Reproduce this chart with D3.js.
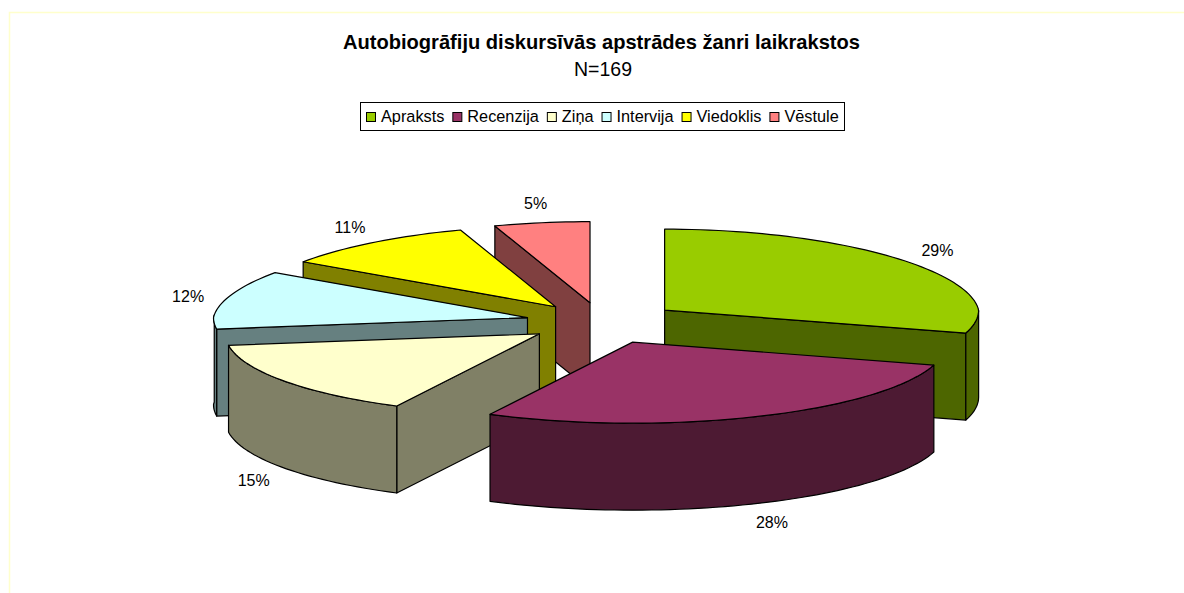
<!DOCTYPE html>
<html>

<head>
  <meta http-equiv="content-type" content="text/html; charset=utf-8">
  <title>Autobiogrāfiju diskursīvās apstrādes žanri laikrakstos</title>
  <style>
    body { margin: 0; background: #fff; }
    svg { display: block; }
    text { font-family: "Liberation Sans", Arial, sans-serif; fill: #000; }
  </style>
</head>

<body>
  <svg id="canvas"></svg>

  <script src="https://d3js.org/d3.v7.min.js"></script>
  <script>

    const categories = ["Apraksts", "Recenzija", "Ziņa", "Intervija", "Viedoklis", "Vēstule"];
    const counts = [49, 47, 26, 20, 18, 9];
    const pct_labels = ["29%", "28%", "15%", "12%", "11%", "5%"];
    const colors = ["#99CC00", "#993366", "#FFFFCC", "#CCFFFF", "#FFFF00", "#FF8080"];
    const title_text = "Autobiogrāfiju diskursīvās apstrādes žanri laikrakstos";
    const subtitle_text = "N=169";

    // back to front, same as the overlaps in the picture
    const draw_order = [5, 4, 3, 2, 0, 1];

    const dims = { "width": 1184, "height": 593 };
    const pie3d = { "cx": 603, "cy": 322.5, "rx": 314, "ry": 81, "depth": 87, "explode": 78, "warp": 0.045, "persp": 0.06 };
    // small per slice corrections to the explode offset
    const nudge_x = [0, -4, -2, 1, 1, 0];
    const nudge_y = [0, 1.5, -1, -1, 0, 0];

    const svg = d3.select("svg#canvas")
      .attr("width", dims.width)
      .attr("height", dims.height);

    // pale frame of the chart area
    svg.append("path")
      .attr("d", "M9.5,593V12.5H1184")
      .attr("fill", "none")
      .attr("stroke", "#FFFFCC")
      .attr("stroke-width", 1.5);

    svg.append("text")
      .attr("x", 601.5).attr("y", 49)
      .attr("text-anchor", "middle")
      .style("font-size", "20.1px").style("font-weight", "bold")
      .text(title_text);

    svg.append("text")
      .attr("x", 603).attr("y", 76)
      .attr("text-anchor", "middle")
      .style("font-size", "19.5px")
      .text(subtitle_text);

    const arcs = d3.pie().sort(null)(counts);

    const slices = arcs.map((d, i) => {
      const mid = (d.startAngle + d.endAngle) / 2;
      return {
        "i": i, "a0": d.startAngle, "a1": d.endAngle, "mid": mid,
        "ax": pie3d.cx + pie3d.explode * Math.sin(mid) + nudge_x[i],
        "ay": pie3d.cy - pie3d.explode * pie3d.ry / pie3d.rx * Math.cos(mid) + nudge_y[i]
      };
    });

    // the excel 3d view pushes angles forward a bit and narrows the far side
    const rim = (s, a, drop = 0) => {
      const w = a + pie3d.warp * Math.sin(a / 2);
      return [
        s.ax + pie3d.rx * Math.sin(w) * (1 - pie3d.persp * Math.max(0, Math.cos(w))),
        s.ay - pie3d.ry * Math.cos(w) + drop
      ];
    };
    const apex = (s, drop = 0) => [s.ax, s.ay + drop];

    const arc_points = (s, a0, a1, drop = 0) => {
      const n = Math.max(2, Math.ceil((a1 - a0) / 0.03));
      return d3.range(n + 1).map(j => rim(s, a0 + (a1 - a0) * j / n, drop));
    };

    const line = d3.line();
    const side_color = c => { const r = d3.rgb(c); return d3.rgb(r.r / 2, r.g / 2, r.b / 2).formatHex(); };

    const face = (g, pts, fill) => g.append("path")
      .attr("d", line(pts) + "Z")
      .attr("fill", fill)
      .attr("stroke", "#000")
      .attr("stroke-width", 1.2)
      .attr("stroke-linejoin", "round");

    const pie_g = svg.append("g");

    draw_order.forEach(idx => {
      const s = slices[idx];
      const g = pie_g.append("g");
      const dark = side_color(colors[idx]);

      // a flat side only shows when it faces the viewer
      if (Math.sin(s.a0) < -1e-6)
        face(g, [apex(s), rim(s, s.a0), rim(s, s.a0, pie3d.depth), apex(s, pie3d.depth)], dark);
      if (Math.sin(s.a1) > 1e-6)
        face(g, [apex(s), rim(s, s.a1), rim(s, s.a1, pie3d.depth), apex(s, pie3d.depth)], dark);

      // outer wall, near half of the ellipse only
      const w0 = Math.max(s.a0, Math.PI / 2 - 0.03);
      const w1 = Math.min(s.a1, Math.PI * 1.5);
      if (w1 > w0)
        face(g, arc_points(s, w0, w1).concat(arc_points(s, w0, w1, pie3d.depth).reverse()), dark);

      face(g, [apex(s)].concat(arc_points(s, s.a0, s.a1)), colors[idx]);
    });

    // percent labels just outside the rim
    svg.append("g").selectAll("text")
      .data(slices)
      .enter().append("text")
      .attr("text-anchor", "middle")
      .style("font-size", "16px")
      .attr("x", d => rim(d, d.mid)[0] + 38 * Math.sin(d.mid))
      .attr("y", d => rim(d, d.mid, Math.cos(d.mid) < 0 ? pie3d.depth : 0)[1] - 20 * Math.cos(d.mid) + 6)
      .text(d => pct_labels[d.i]);

    // legend
    const legend = svg.append("g");
    legend.append("rect")
      .attr("x", 360.5).attr("y", 102.5)
      .attr("width", 484).attr("height", 28)
      .attr("fill", "#fff")
      .attr("stroke", "#000");

    let lx = 366;
    categories.forEach((c, i) => {
      legend.append("rect")
        .attr("x", lx + 0.5).attr("y", 112.5)
        .attr("width", 9).attr("height", 9)
        .attr("fill", colors[i])
        .attr("stroke", "#000");
      const t = legend.append("text")
        .attr("x", lx + 15).attr("y", 122)
        .style("font-size", "16.3px")
        .text(c);
      lx += 15 + t.node().getComputedTextLength() + 8;
    });

  </script>
</body>

</html>
